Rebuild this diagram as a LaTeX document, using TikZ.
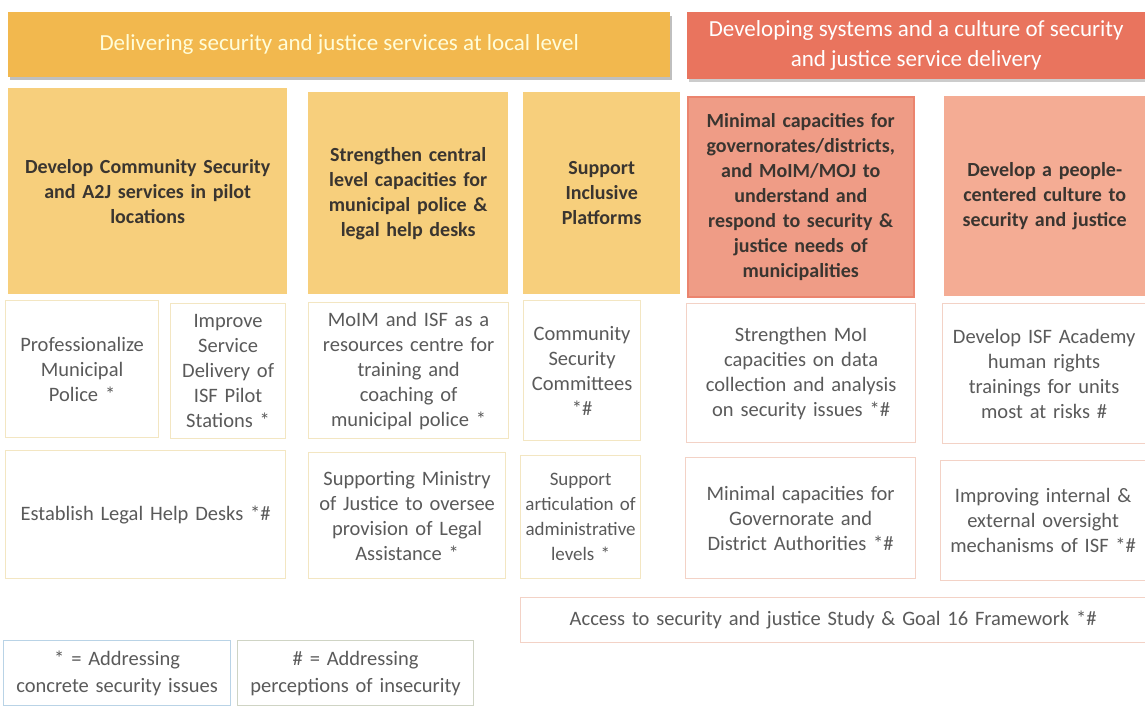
\documentclass[tikz,border=0pt]{standalone}
\usepackage{fontspec}
\setmainfont{Carlito}
\definecolor{hdrA}{HTML}{F2B84E}
\definecolor{hdrB}{HTML}{E9745E}
\definecolor{boxA}{HTML}{F7CF7C}
\definecolor{boxB}{HTML}{EF9C86}
\definecolor{boxC}{HTML}{F4AC94}
\definecolor{txtD}{HTML}{3A3530}
\definecolor{txtG}{HTML}{5A5A5A}
\definecolor{bdY}{HTML}{F3E6C2}
\definecolor{bdR}{HTML}{F3D2C6}
\definecolor{bdBlue}{HTML}{B9D3E6}
\definecolor{bdGr}{HTML}{CFD4C4}
\begin{document}
\begin{tikzpicture}[x=1pt,y=-1pt,
  hdr/.style={anchor=north west,inner sep=0pt,align=center,text=white,font=\fontsize{23}{30}\selectfont},
  topbox/.style={anchor=north west,inner sep=0pt,align=center,text=txtD,font=\bfseries\fontsize{20}{25}\selectfont},
  wbox/.style={anchor=north west,inner sep=0pt,align=center,fill=white,text=txtG,line width=1.2pt,font=\fontsize{20.5}{25}\selectfont},
  legbox/.style={anchor=north west,inner sep=0pt,align=center,fill=white,text=txtG,line width=1.2pt,font=\fontsize{20.5}{27}\selectfont}]
\useasboundingbox (0,0) rectangle (1145,707);
\fill[white] (0,0) rectangle (1145,707);
% headers
\fill[black!25] (10,16) rectangle (672,80);
\node[hdr,fill=hdrA,minimum width=662pt,minimum height=65pt,text=white!85!yellow] (h1) at (8,12) {Delivering security and justice services at local level};
\fill[black!20] (689,16) rectangle (1145,82);
\node[hdr,fill=hdrB,minimum width=458pt,minimum height=67pt] (h2) at (687,12) {Developing systems and a culture of security\\and justice service delivery};
% top boxes
\node[topbox,fill=boxA,minimum width=279pt,minimum height=206pt,text width=275pt] (a) at (8,88) {Develop Community Security\\and A2J services in pilot\\locations};
\node[topbox,fill=boxA,minimum width=200pt,minimum height=202pt,text width=196pt] (b) at (308,92) {Strengthen central\\level capacities for\\municipal police \&\\legal help desks};
\node[topbox,fill=boxA,minimum width=157pt,minimum height=202pt,text width=150pt] (c) at (523,92) {Support\\Inclusive\\Platforms};
\node[topbox,fill=boxB,draw=hdrB!60!boxB,line width=1.5pt,minimum width=226pt,minimum height=200pt,text width=222pt] (d) at (687,96) {Minimal capacities for\\governorates/districts,\\and MoIM/MOJ to\\understand and\\respond to security \&\\justice needs of\\municipalities};
\node[topbox,fill=boxC,minimum width=201pt,minimum height=200pt,text width=197pt] (e) at (944,96) {Develop a people-\\centered culture to\\security and justice};
% row 2
\node[wbox,draw=bdY,minimum width=153pt,minimum height=137pt,text width=150pt] (p1) at (5,300) {Professionalize\\Municipal\\Police *};
\node[wbox,draw=bdY,minimum width=115pt,minimum height=135pt,text width=112pt] (p2) at (170,303) {Improve\\Service\\Delivery of\\ISF Pilot\\Stations *};
\node[wbox,draw=bdY,minimum width=200pt,minimum height=136pt,text width=197pt] (p3) at (308,302) {MoIM and ISF as a\\resources centre for\\training and\\coaching of\\municipal police *};
\node[wbox,draw=bdY,minimum width=117pt,minimum height=140pt,text width=114pt] (p4) at (523,300) {Community\\Security\\Committees\\{}*\#};
\node[wbox,draw=bdR,minimum width=229pt,minimum height=139pt,text width=226pt] (p5) at (686,303) {Strengthen MoI\\capacities on data\\collection and analysis\\on security issues *\#};
\node[wbox,draw=bdR,minimum width=203pt,minimum height=140pt,text width=200pt] (p6) at (942,303) {Develop ISF Academy\\human rights\\trainings for units\\most at risks \#};
% row 3
\node[wbox,draw=bdY,minimum width=280pt,minimum height=128pt,text width=277pt] (q1) at (5,450) {Establish Legal Help Desks *\#};
\node[wbox,draw=bdY,minimum width=197pt,minimum height=126pt,text width=194pt] (q2) at (308,452) {Supporting Ministry\\of Justice to oversee\\provision of Legal\\Assistance *};
\node[wbox,draw=bdY,minimum width=120pt,minimum height=123pt,text width=118pt,font=\fontsize{19}{25}\selectfont] (q3) at (520,455) {Support\\articulation of\\administrative\\levels *};
\node[wbox,draw=bdR,minimum width=230pt,minimum height=121pt,text width=227pt] (q4) at (685,457) {Minimal capacities for\\Governorate and\\District Authorities *\#};
\node[wbox,draw=bdR,minimum width=205pt,minimum height=120pt,text width=202pt] (q5) at (940,460) {Improving internal \&\\external oversight\\mechanisms of ISF *\#};
% row 4
\node[wbox,draw=bdR,minimum width=625pt,minimum height=45pt,text width=620pt] (r1) at (520,597) {Access to security and justice Study \& Goal 16 Framework *\#};
\node[legbox,draw=bdBlue,minimum width=227pt,minimum height=65pt,text width=224pt] (l1) at (3,640) {* = Addressing\\concrete security issues};
\node[legbox,draw=bdGr,minimum width=236pt,minimum height=65pt,text width=232pt] (l2) at (237,640) {\# = Addressing\\perceptions of insecurity};
\end{tikzpicture}
\end{document}
